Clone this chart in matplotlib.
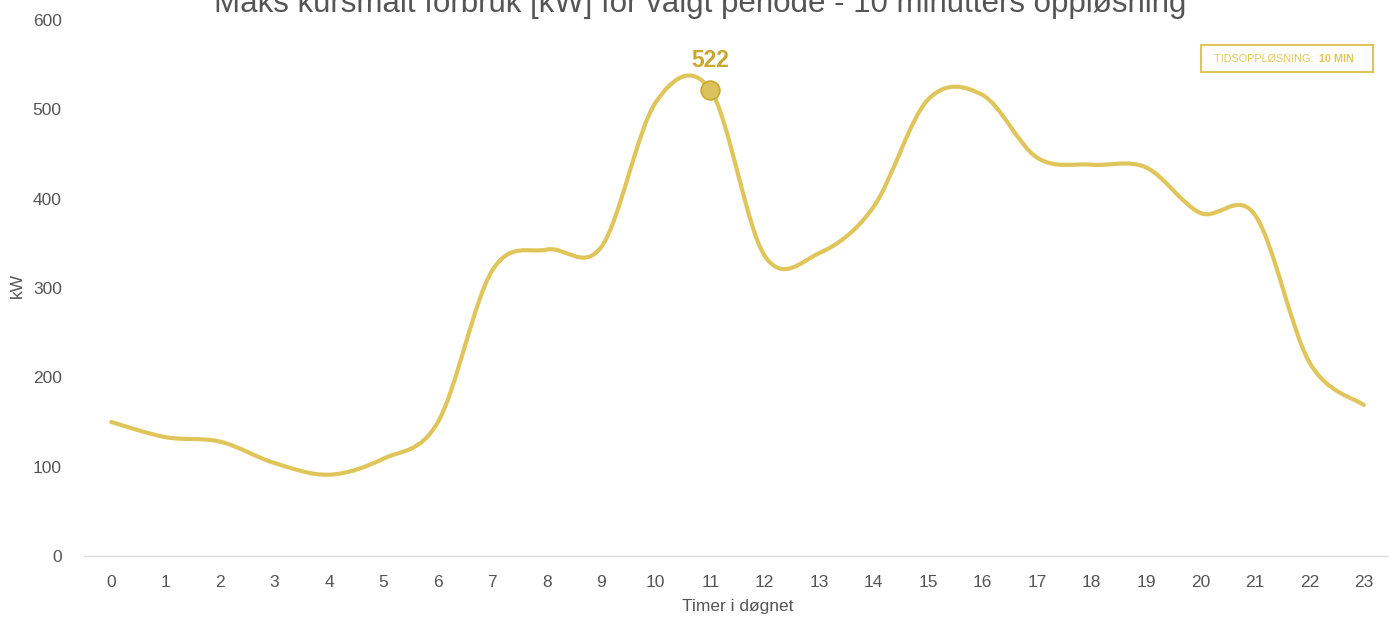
import numpy as np
import matplotlib
matplotlib.use("Agg")
import matplotlib.pyplot as plt
from matplotlib.path import Path
from matplotlib.patches import PathPatch, Rectangle

plt.rcParams['font.family'] = ['Liberation Sans', 'DejaVu Sans']

hours = list(range(24))
kw_max = [150, 133, 128, 104, 91, 109, 150, 320, 343, 346, 508, 522,
          336, 339, 391, 511, 516, 446, 438, 435, 384, 382, 217, 169]
y_ticks = [0, 100, 200, 300, 400, 500, 600]
peak_hour = 11
peak_value = 522

title = "Maks kursmålt forbruk [kW] for valgt periode - 10 minutters oppløsning"
x_label = "Timer i døgnet"
y_label = "kW"

line_col = '#E0C65A'
gold_dark = '#C9A82C'
text_col = '#555555'

fig = plt.figure(figsize=(13.89, 6.18), dpi=100)
ax = fig.add_axes([84 / 1389, 62 / 618, (1391 - 84) / 1389, 536 / 618])

# smooth line (Catmull-Rom as cubic Bezier segments)
x = np.array(hours, dtype=float)
y = np.array(kw_max, dtype=float)
pts = np.column_stack([x, y])
ext = np.vstack([pts[0], pts, pts[-1]])
verts = [tuple(pts[0])]
codes = [Path.MOVETO]
for i in range(len(pts) - 1):
    p0, p1, p2, p3 = ext[i], ext[i + 1], ext[i + 2], ext[i + 3]
    c1 = p1 + (p2 - p0) / 6.0
    c2 = p2 - (p3 - p1) / 6.0
    verts += [tuple(c1), tuple(c2), tuple(p2)]
    codes += [Path.CURVE4] * 3
ax.add_patch(PathPatch(Path(verts, codes), facecolor='none', edgecolor=line_col,
                       lw=3.0, capstyle='round', joinstyle='round', zorder=3))

ax.plot([peak_hour], [peak_value], 'o', ms=13.5, mfc='#DCC25E', mec=gold_dark,
        mew=1.2, zorder=4)
ax.annotate(str(peak_value), (peak_hour, peak_value), xytext=(0, 13),
            textcoords='offset points', ha='center', va='bottom',
            fontsize=16.5, fontweight='bold', color=gold_dark)

ax.set_xlim(-0.5, 23.5)
ax.set_ylim(0, 600)
ax.set_xticks(hours)
ax.set_yticks(y_ticks)
ax.tick_params(axis='both', length=0, labelsize=12.5, labelcolor=text_col)
ax.tick_params(axis='x', pad=14)
ax.tick_params(axis='y', pad=16)
for s in ['top', 'right', 'left']:
    ax.spines[s].set_visible(False)
ax.spines['bottom'].set_color('#dddddd')
ax.spines['bottom'].set_linewidth(1)

ax.set_xlabel(x_label, fontsize=12.5, color=text_col)
ax.xaxis.set_label_coords(0.5, -0.081)
ax.set_ylabel(y_label, fontsize=12.5, color=text_col)
ax.yaxis.set_label_coords(-0.045, 0.505)

fig.text(0.504, 1 - 12 / 618, title, ha='center', va='baseline',
         fontsize=22.5, color=text_col)

# resolution badge
fig.patches.append(Rectangle((1201 / 1389, 1 - 72 / 618), 172 / 1389, 27 / 618,
                             transform=fig.transFigure, fill=False,
                             edgecolor=line_col, lw=1.5))
fig.text(1317 / 1389, 1 - 59 / 618, "TIDSOPPLØSNING: ", ha='right', va='center',
         fontsize=7.8, color=line_col)
fig.text(1319 / 1389, 1 - 59 / 618, "10 MIN", ha='left', va='center',
         fontsize=7.8, fontweight='bold', color=line_col)

fig.savefig('out.png', dpi=100)
